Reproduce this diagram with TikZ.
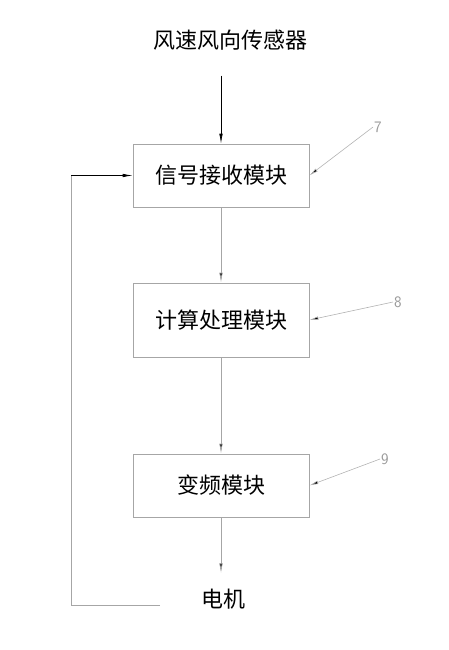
\documentclass[tikz,border=0pt]{standalone}
\usepackage{fontspec}
\newfontfamily\cjk{Noto Sans CJK SC}
\usetikzlibrary{arrows.meta}
\begin{document}
\begin{tikzpicture}[x=1pt,y=-1pt]
\tikzstyle{module}=[rectangle,draw=black!35,line width=0.7pt,minimum width=176pt,minimum height=63pt,font=\cjk\fontsize{22}{22}\selectfont]
\tikzstyle{plain}=[font=\cjk\fontsize{22}{22}\selectfont]
\tikzstyle{tag}=[text=black!40,inner sep=1pt,font=\sffamily\fontsize{16}{16}\selectfont]
\tikzstyle{flow}=[draw=black!35,line width=0.7pt,-{Latex[length=10pt,width=3.5pt,fill=black]}]
\tikzstyle{lead}=[draw=black!30,line width=0.6pt,-{Latex[length=9pt,width=3.5pt,fill=black]}]
\useasboundingbox (0,0) rectangle (449,650);
\node[plain] (sensor) at (230,40) {风速风向传感器};
\node[module] (recv) at (221,175.5) {信号接收模块};
\node[module,minimum height=74pt] (calc) at (221,320) {计算处理模块};
\node[module] (conv) at (221,485.5) {变频模块};
\node[plain] (motor) at (223,599) {电机};
\node[tag] (n7) at (378,127) {7};
\node[tag] (n8) at (398,302) {8};
\node[tag] (n9) at (385,459) {9};
\coordinate (fb) at (160,605);
\coordinate (corner) at (71,175.5);
% main flow
\draw[flow,draw=black,shorten <=22pt] (sensor.south -| recv.north) -- (recv.north);
\draw[flow] (recv.south) -- (calc.north);
\draw[flow] (calc.south) -- (conv.north);
\draw[flow,shorten >=12pt] (conv.south) -- (motor.north -| conv.south);
% feedback
\draw[draw=black!35,line width=0.7pt] (fb) -| (corner);
\draw[flow,draw=black] (corner) -- (recv.west);
% leaders
\draw[lead] (n7.west) -- (recv.east);
\draw[lead] (n8.west) -- (calc.east);
\draw[lead] (n9.west) -- (conv.east);
\end{tikzpicture}
\end{document}
